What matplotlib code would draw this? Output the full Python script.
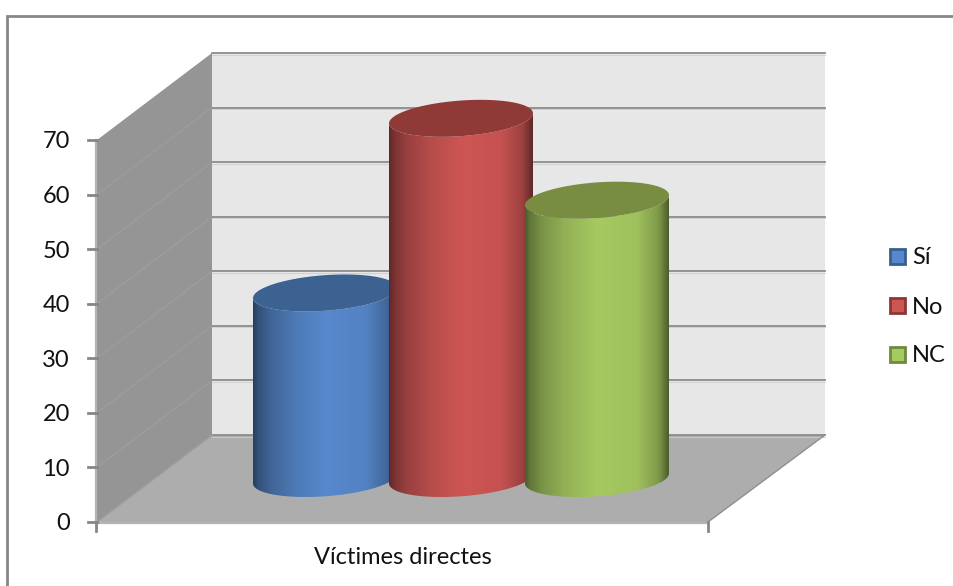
import numpy as np
import matplotlib
matplotlib.use('Agg')
import matplotlib.pyplot as plt
from matplotlib.patches import Polygon, Rectangle
from matplotlib.colors import to_rgb

# datos
series = ['Sí', 'No', 'NC']
values = [34, 66, 51]
y_ticks = [0, 10, 20, 30, 40, 50, 60, 70]
category = 'Víctimes directes'

side_colors = ['#5788cc', '#cd5654', '#a6c961']
cap_colors = ['#3c6291', '#903a38', '#788d42']
edge_colors = ['#35608f', '#8c3735', '#6f8a3a']

# geometria en pixeles
X0, X1 = 97, 708
Y0 = 522
DX, DX_RIGHT, DY = 115, 117, -87
UNIT = 382 / 70
CYL_A, CYL_B = 72, 17.8
SLOPE = 0.07
CYL_STEP = 136
GRID = '#8c8c8c'
FONT = 'Lato'
FSIZE = 17


def val_y(v):
    return Y0 - v * UNIT


def ellipse_pts(cx, cy, t):
    return np.column_stack([cx + CYL_A * np.cos(t),
                            cy + CYL_B * np.sin(t) - SLOPE * CYL_A * np.cos(t)])


fig = plt.figure(figsize=(9.54, 5.86), dpi=100)
ax = fig.add_axes([0, 0, 1, 1])
ax.set_xlim(0, 954)
ax.set_ylim(586, 0)
ax.axis('off')

# marco exterior
ax.plot([7, 7, 954], [586, 16, 16], color='#868686', lw=2.0, solid_joinstyle='miter', zorder=1)

# paredes y suelo
top = y_ticks[-1]
ax.add_patch(Polygon([(X0 + DX, val_y(0) + DY), (X1 + DX_RIGHT, val_y(0) + DY),
                      (X1 + DX_RIGHT, val_y(top) + DY), (X0 + DX, val_y(top) + DY)],
                     fc='#e7e7e7', ec='none', zorder=2))
ax.add_patch(Polygon([(X0, val_y(0)), (X0, val_y(top)),
                      (X0 + DX, val_y(top) + DY), (X0 + DX, val_y(0) + DY)],
                     fc='#959595', ec='none', zorder=2))
ax.add_patch(Polygon([(X0, val_y(0)), (X1, val_y(0)),
                      (X1 + DX_RIGHT, val_y(0) + DY), (X0 + DX, val_y(0) + DY)],
                     fc='#adadad', ec='none', zorder=2))

# lineas de rejilla
for v in y_ticks:
    y = val_y(v)
    ax.plot([X0 + DX, X1 + DX_RIGHT], [y + DY, y + DY], color=GRID, lw=1.3, zorder=3)
    ax.plot([X0 + DX, X1 + DX_RIGHT], [y + DY + 1.5, y + DY + 1.5], color='#cdcdcd', lw=0.6, zorder=3)
    if 0 < v < top:
        ax.plot([X0, X0 + DX], [y, y + DY], color='#a0a0a0', lw=0.7, zorder=3)
    ax.plot([X0 - 9, X0], [y, y], color='#868686', lw=2.0, zorder=5)
    ax.text(70, y, str(v), ha='right', va='center_baseline', fontsize=FSIZE,
            family=FONT, color='#111111', zorder=6)

ax.plot([X0 + DX, X0], [val_y(0) + DY, val_y(0)], color='#9c9c9c', lw=1.0, zorder=3)
ax.plot([X1 + DX_RIGHT, X1], [val_y(0) + DY, val_y(0)], color='#8f8f8f', lw=1.0, zorder=3)
ax.plot([X0 - 0.5, X0 - 0.5], [val_y(0), val_y(top)], color='#b4b4b4', lw=1.6, zorder=4)
ax.plot([X0, X1], [val_y(0) + 1, val_y(0) + 1], color='#b4b4b4', lw=1.6, zorder=4)
for x in [X0 - 0.5, X1]:
    ax.plot([x, x], [val_y(0), val_y(0) + 9], color='#868686', lw=2.0, zorder=5)

# cilindros
floor_cy = Y0 + DY / 2
center_x = (X0 + X1 + DX_RIGHT) / 2
t_front = np.linspace(np.pi, 0, 80)
stops = [0, 0.03, 0.12, 0.28, 0.5, 0.78, 0.93, 1]
shade = [0.46, 0.58, 0.74, 0.88, 1, 0.96, 0.76, 0.46]

for i, v in enumerate(values):
    cx = center_x + (i - 1) * CYL_STEP
    top_cy = floor_cy - v * UNIT
    zo = 10 + i

    base = ellipse_pts(cx, floor_cy, t_front)
    cap_front = ellipse_pts(cx, top_cy, t_front)
    outline = np.vstack([base, cap_front[::-1]])
    clip = Polygon(outline, closed=True, transform=ax.transData, fc='none', ec='none')
    ax.add_patch(clip)

    pos = np.linspace(0, 1, 256)
    fac = np.interp(pos, stops, shade)
    grad = (np.array(to_rgb(side_colors[i]))[None, :] * fac[:, None])[None, :, :]
    im = ax.imshow(grad, extent=[cx - CYL_A, cx + CYL_A, outline[:, 1].max(), outline[:, 1].min()],
                   aspect='auto', interpolation='bilinear', zorder=zo)
    im.set_clip_path(clip)

    t = np.linspace(0, 2 * np.pi, 160)
    ax.add_patch(Polygon(ellipse_pts(cx, top_cy, t), closed=True, fc=cap_colors[i],
                         ec='none', zorder=zo + 0.5))

ax.set_xlim(0, 954)
ax.set_ylim(586, 0)

# eje x
ax.text(403, 557, category, ha='center', va='center', fontsize=FSIZE, family=FONT, color='#111111')

# leyenda
legend_y = [256, 305, 354]
for i, name in enumerate(series):
    ax.add_patch(Rectangle((890, legend_y[i] - 7.5), 15, 15, fc=side_colors[i],
                           ec=edge_colors[i], lw=2.0, zorder=6))
    ax.text(912, legend_y[i], name, ha='left', va='center_baseline', fontsize=FSIZE,
            family=FONT, color='#111111')

fig.savefig('out.png', dpi=100)
